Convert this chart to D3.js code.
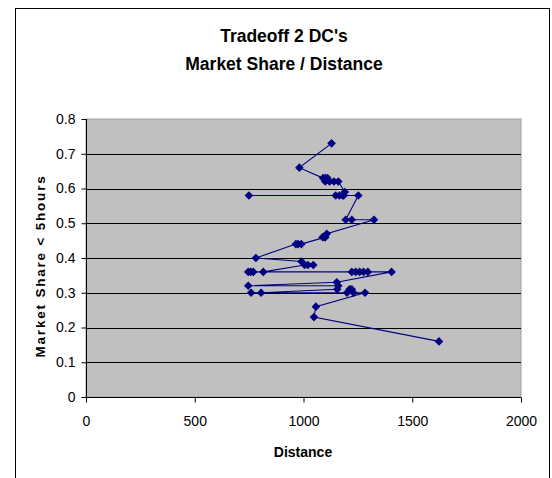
<!DOCTYPE html>
<html>
<head>
<meta charset="utf-8">
<script src="https://cdn.jsdelivr.net/npm/d3@7"></script>
<style>
  body { margin: 0; background: #fff; }
  text { font-family: Arial, "Liberation Sans", sans-serif; }
</style>
</head>
<body>
<script>
// data, in drawing order
var distance = [
  1129, 981, 1090, 1100, 1110, 1100, 1120, 1140, 1160, 1190,
  1185, 1165, 1148, 749, 1180, 1252, 1194, 1222, 1324, 1107,
  1098, 1088, 1100, 990, 975, 965, 781, 991, 1045, 1020,
  1005, 815, 769, 757, 746, 1222, 1240, 1258, 1276, 1296,
  1405, 1153, 746, 1160, 1155, 805, 759, 1200, 1212, 1222,
  1230, 1283, 1057, 1048, 1623
];
var share = [
  0.73, 0.66, 0.63, 0.63, 0.63, 0.62, 0.62, 0.62, 0.62, 0.59,
  0.58, 0.58, 0.58, 0.58, 0.58, 0.58, 0.51, 0.51, 0.51, 0.47,
  0.46, 0.46, 0.46, 0.44, 0.44, 0.44, 0.40, 0.39, 0.38, 0.38,
  0.38, 0.36, 0.36, 0.36, 0.36, 0.36, 0.36, 0.36, 0.36, 0.36,
  0.36, 0.33, 0.32, 0.32, 0.31, 0.30, 0.30, 0.30, 0.31, 0.31,
  0.30, 0.30, 0.26, 0.23, 0.16
];
var xTicks = [0, 500, 1000, 1500, 2000];
var yTicks = [0, 0.1, 0.2, 0.3, 0.4, 0.5, 0.6, 0.7, 0.8];
var titleLines = ["Tradeoff 2 DC's", "Market Share / Distance"];

var width = 552;
var height = 478;
// plot area edges (pLeft etc, "top" is taken by window.top)
var pLeft = 86, pRight = 521, pTop = 119, pBottom = 397;
var navy = "#000080";

var svg = d3
  .select("body")
  .append("svg")
  .attr("width", width)
  .attr("height", height);

// chart border
svg
  .append("rect")
  .attr("x", 15.5)
  .attr("y", 8.5)
  .attr("width", 534)
  .attr("height", 500)
  .attr("fill", "#fff")
  .attr("stroke", "#000");

var xScale = d3.scaleLinear().domain([0, 2000]).range([pLeft, pRight]);
var yScale = d3.scaleLinear().domain([0, 0.8]).range([pBottom, pTop]);

// plot area
svg
  .append("rect")
  .attr("x", pLeft)
  .attr("y", pTop)
  .attr("width", pRight - pLeft)
  .attr("height", pBottom - pTop)
  .attr("fill", "#c0c0c0")
  .attr("stroke", "#a0a0a0");

// gridlines
svg
  .append("g")
  .selectAll("line")
  .data(yTicks.slice(1, 8))
  .enter()
  .append("line")
  .attr("x1", pLeft)
  .attr("x2", pRight)
  .attr("y1", function(d) { return Math.round(yScale(d)) + 0.5; })
  .attr("y2", function(d) { return Math.round(yScale(d)) + 0.5; })
  .attr("stroke", "#000");

// axes
var xAxis = svg
  .append("g")
  .attr("transform", "translate(0," + (pBottom + 0.5) + ")")
  .call(d3.axisBottom(xScale).tickValues(xTicks).tickSize(5).tickPadding(14).tickFormat(d3.format("d")));
var yAxis = svg
  .append("g")
  .attr("transform", "translate(" + (pLeft + 0.5) + ",0)")
  .call(d3.axisLeft(yScale).tickValues(yTicks).tickSize(5).tickPadding(6).tickFormat(function(d) { return d === 0 ? "0" : d3.format(".1f")(d); }));
[xAxis, yAxis].forEach(function(a) {
  a.select(".domain").attr("stroke", "#000");
  a.selectAll(".tick line").attr("stroke", "#000");
  a.selectAll("text")
    .attr("fill", "#000")
    .attr("font-size", 14)
    .attr("font-family", "Arial, 'Liberation Sans', sans-serif");
});
yAxis.select(".domain").attr("d", "M0," + pTop + "V" + pBottom);
xAxis.select(".domain").attr("d", "M" + pLeft + ",0H" + pRight);

// line + diamond markers
var pts = distance.map(function(d, i) { return [d, share[i]]; });
var line = d3
  .line()
  .x(function(d) { return xScale(d[0]); })
  .y(function(d) { return yScale(d[1]); });
svg
  .append("path")
  .attr("d", line(pts))
  .attr("fill", "none")
  .attr("stroke", navy)
  .attr("stroke-width", 1.1);
svg
  .append("g")
  .selectAll("path")
  .data(pts)
  .enter()
  .append("path")
  .attr("d", "M0,-4.3L4.3,0L0,4.3L-4.3,0Z")
  .attr("transform", function(d) { return "translate(" + xScale(d[0]) + "," + yScale(d[1]) + ")"; })
  .attr("fill", navy);

// titles
svg
  .selectAll(".title")
  .data(titleLines)
  .enter()
  .append("text")
  .attr("class", "title")
  .attr("x", 284)
  .attr("y", function(d, i) { return 42 + i * 28; })
  .attr("text-anchor", "middle")
  .attr("font-size", 17.5)
  .attr("font-weight", "bold")
  .text(function(d) { return d; });
svg
  .append("text")
  .attr("x", 303)
  .attr("y", 457)
  .attr("text-anchor", "middle")
  .attr("font-size", 14)
  .attr("font-weight", "bold")
  .text("Distance");
svg
  .append("text")
  .attr("transform", "translate(45,266) rotate(-90)")
  .attr("text-anchor", "middle")
  .attr("font-size", 13.5)
  .attr("font-weight", "bold")
  .attr("letter-spacing", 1.8)
  .text("Market Share < 5hours");
</script>
</body>
</html>
